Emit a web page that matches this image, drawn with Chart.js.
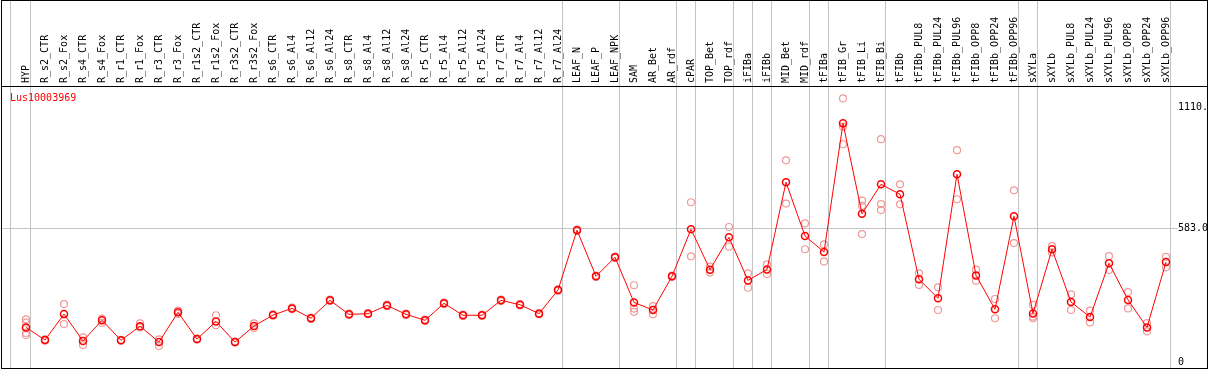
<!DOCTYPE html>
<html><head><meta charset="utf-8">
<script src="https://cdn.jsdelivr.net/npm/chart.js@4/dist/chart.umd.min.js"></script>
<style>html,body{margin:0;padding:0;background:#fff;overflow:hidden}</style>
</head><body>
<canvas id="c" width="1209" height="370" style="display:block;width:1209px;height:370px"></canvas>
<script>
const geneName = 'Lus10003969';
const categories = ['HYP','R_s2_CTR','R_s2_Fox','R_s4_CTR','R_s4_Fox','R_r1_CTR','R_r1_Fox','R_r3_CTR','R_r3_Fox','R_r1s2_CTR','R_r1s2_Fox','R_r3s2_CTR','R_r3s2_Fox','R_s6_CTR','R_s6_Al4','R_s6_Al12','R_s6_Al24','R_s8_CTR','R_s8_Al4','R_s8_Al12','R_s8_Al24','R_r5_CTR','R_r5_Al4','R_r5_Al12','R_r5_Al24','R_r7_CTR','R_r7_Al4','R_r7_Al12','R_r7_Al24','LEAF_N','LEAF_P','LEAF_NPK','SAM','AR_Bet','AR_rdf','cPAR','TOP_Bet','TOP_rdf','iFIBa','iFIBb','MID_Bet','MID_rdf','tFIBa','tFIB_Gr','tFIB_Li','tFIB_Bi','tFIBb','tFIBb_PUL8','tFIBb_PUL24','tFIBb_PUL96','tFIBb_OPP8','tFIBb_OPP24','tFIBb_OPP96','sXYLa','sXYLb','sXYLb_PUL8','sXYLb_PUL24','sXYLb_PUL96','sXYLb_OPP8','sXYLb_OPP24','sXYLb_OPP96'];
const meanValues = [151,96,209,92,182,95,156,87,217,100,177,87,157,205,234,191,269,208,211,247,208,182,256,204,204,269,250,211,314,575,374,457,260,227,374,579,403,544,356,404,784,550,480,1041,647,775,732,361,278,819,378,230,636,212,492,262,196,431,271,151,436];
const replicates = [
 [186,172,127,118],[99,93],[253,166],[108,74],[189,171],[97,93],[169,151],[99,70],[224,210],[102,98],
 [204,160],[89,85],[169,148],[208,202],[237,231],[194,188],[272,266],[211,205],[214,208],[250,244],
 [211,205],[185,179],[259,253],[207,201],[207,201],[272,266],[253,247],[214,208],[317,311],[578,572],
 [377,371],[460,454],[335,233,219],[244,229,208],[377,371],[697,461],[416,390],[589,503],[387,324],[426,384],
 [880,691],[605,492],[513,438],[1150,1027,950],[704,681,558],[972,689,663],[775,688],[387,336],[326,227],[924,710],
 [403,355],[275,191],[749,519],[249,198,191],[506,478],[295,227],[224,173],[462,401],[305,234],[170,134],
 [459,413]
];
const yTicks = [0, 583, 1110];
const yTickLabels = ['0', '583.0', '1110.'];
const groupBreaks = [-0.8, 0.25, 28.25, 31.25, 34.25, 35.25, 37.25, 38.25, 39.25, 41.25, 42.25, 45.25, 52.25, 53.25, 60.25];

const FONT = 'DejaVu Sans Mono';
const XMIN = -24/19;
const XMAX = XMIN + 1205/19;
const YMIN = -26, YMAX = 1204;

const mainPoints = meanValues.map((v, i) => ({x: i, y: v}));
const repPoints = [];
replicates.forEach((arr, i) => arr.forEach(v => repPoints.push({x: i, y: v})));

const framePlugin = {
  id: 'frame',
  afterDraw(chart) {
    const ctx = chart.ctx, a = chart.chartArea;
    ctx.save();
    ctx.strokeStyle = '#000';
    ctx.lineWidth = 1;
    ctx.strokeRect(a.left - 0.5, 0.5, a.right - a.left + 1, a.bottom);
    ctx.fillStyle = '#f00';
    ctx.font = '10px "' + FONT + '"';
    ctx.textBaseline = 'alphabetic';
    ctx.textAlign = 'left';
    ctx.fillText(chart.data.datasets[0].label, a.left + 8, a.top + 15);
    ctx.restore();
  }
};

new Chart(document.getElementById('c'), {
  type: 'line',
  data: {
    datasets: [
      {label: geneName, data: mainPoints, borderColor: '#ff0000', borderWidth: 1, tension: 0,
       pointRadius: 3.5, pointBorderWidth: 1.5, pointBorderColor: '#ff0000', pointBackgroundColor: 'rgba(0,0,0,0)',
       xAxisID: 'x', yAxisID: 'y'},
      {label: 'replicates', type: 'scatter', data: repPoints, showLine: false,
       pointRadius: 3.5, pointBorderWidth: 1.2, pointBorderColor: '#ee9a9a', pointBackgroundColor: 'rgba(0,0,0,0)',
       xAxisID: 'x', yAxisID: 'y'}
    ]
  },
  options: {
    responsive: false, animation: false,
    layout: {autoPadding: false, padding: {left: 2, right: 2, top: 0, bottom: 2}},
    plugins: {legend: {display: false}, tooltip: {enabled: false}, title: {display: false}},
    scales: {
      x: {type: 'linear', position: 'top', min: XMIN, max: XMAX, bounds: 'data', weight: 1,
          afterBuildTicks: s => { s.ticks = categories.map((_, i) => ({value: i})); },
          afterFit: s => { s.height = 86; s.paddingLeft = 0; s.paddingRight = 0; },
          ticks: {autoSkip: false, minRotation: 90, maxRotation: 90, padding: 3, labelOffset: 12, color: '#000',
                  font: {family: FONT, size: 10}, callback: v => categories[Math.round(v)]},
          grid: {display: false, drawTicks: false},
          border: {display: true, color: '#000', width: 1}},
      xg: {type: 'linear', position: 'top', min: XMIN, max: XMAX, bounds: 'data', weight: 0,
          afterBuildTicks: s => { s.ticks = groupBreaks.map(v => ({value: v})); },
          afterFit: s => { s.height = 0; s.paddingLeft = 0; s.paddingRight = 0; },
          ticks: {display: false},
          grid: {display: true, drawOnChartArea: true, drawTicks: true, tickLength: 86, color: '#c4c4c4', lineWidth: 1},
          border: {display: false}},
      y: {type: 'linear', position: 'right', min: YMIN, max: YMAX,
          afterBuildTicks: s => { s.ticks = yTicks.map(v => ({value: v})); },
          afterFit: s => { s.width = 0; s.paddingTop = 0; s.paddingBottom = 0; },
          ticks: {mirror: true, crossAlign: 'far', padding: 1, color: '#000', font: {family: FONT, size: 10},
                  callback: v => yTickLabels[yTicks.indexOf(v)],
                  showLabelBackdrop: true, backdropColor: '#fff', backdropPadding: 0},
          grid: {drawTicks: false, lineWidth: 1,
                 color: c => (c.tick && c.tick.value === 583) ? '#c4c4c4' : 'rgba(0,0,0,0)'},
          border: {display: false}}
    }
  },
  plugins: [framePlugin]
});
</script>
</body></html>
